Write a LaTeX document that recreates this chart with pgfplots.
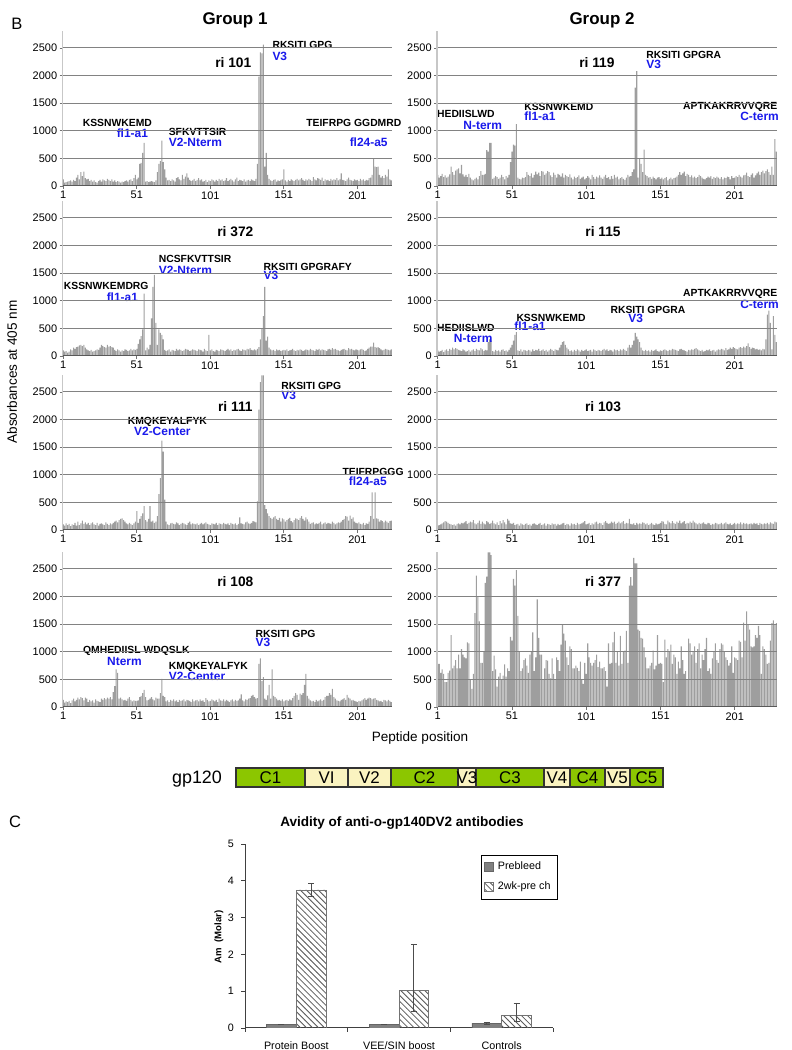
\documentclass[border=0pt]{standalone}
\usepackage{pgfplots}
\pgfplotsset{compat=1.18}
\usepackage{pgfplotstable}
\usepackage{fontspec}
\setmainfont{Liberation Sans}
\usetikzlibrary{patterns}
\definecolor{gpgreen}{RGB}{140,198,0}
\definecolor{gpyellow}{RGB}{250,243,192}
\definecolor{lblblue}{RGB}{25,25,235}
\definecolor{barfill}{RGB}{158,158,158}
\definecolor{gridc}{RGB}{130,130,130}
\newcommand\fs[1]{\fontsize{#1}{#1}\selectfont}

% ---------- data: absorbance per peptide position ----------
\pgfplotstableread[row sep=\\,header=false]{
120\\60\\70\\80\\90\\100\\80\\110\\90\\150\\
200\\120\\250\\180\\260\\140\\120\\130\\90\\110\\
80\\100\\70\\60\\90\\110\\80\\120\\100\\90\\
130\\110\\90\\120\\80\\100\\70\\90\\80\\60\\
80\\70\\90\\100\\80\\110\\120\\90\\140\\200\\
120\\150\\400\\420\\600\\780\\80\\90\\70\\80\\
90\\80\\70\\100\\250\\400\\450\\820\\430\\300\\
150\\100\\110\\90\\120\\100\\80\\140\\160\\120\\
100\\200\\130\\170\\230\\150\\110\\90\\100\\130\\
90\\110\\140\\100\\120\\80\\90\\110\\70\\100\\
90\\120\\100\\80\\110\\90\\130\\100\\120\\90\\
100\\140\\90\\110\\130\\100\\80\\120\\150\\90\\
110\\100\\90\\120\\80\\100\\110\\90\\120\\100\\
90\\130\\400\\1980\\2420\\2400\\2560\\350\\600\\200\\
130\\100\\90\\110\\120\\80\\100\\90\\110\\120\\
300\\100\\80\\110\\90\\120\\100\\90\\110\\130\\
100\\120\\140\\110\\90\\120\\100\\130\\110\\90\\
160\\120\\100\\140\\130\\110\\150\\90\\120\\100\\
110\\90\\130\\100\\120\\110\\140\\100\\120\\230\\
110\\100\\90\\120\\150\\110\\100\\90\\120\\100\\
110\\90\\130\\100\\120\\90\\110\\100\\140\\150\\
200\\500\\350\\340\\350\\200\\150\\180\\140\\200\\
170\\300\\120\\100\\
}\riA
\pgfplotstableread[row sep=\\,header=false]{
100\\80\\90\\60\\80\\120\\100\\150\\130\\160\\
170\\190\\200\\180\\200\\150\\120\\100\\90\\110\\
80\\90\\100\\120\\110\\150\\200\\180\\160\\150\\
200\\170\\180\\160\\150\\110\\90\\120\\100\\80\\
100\\90\\120\\110\\90\\100\\130\\100\\120\\110\\
130\\220\\300\\360\\480\\1130\\100\\150\\120\\200\\
680\\1250\\1470\\600\\200\\480\\420\\380\\300\\110\\
90\\100\\120\\80\\110\\100\\90\\130\\100\\120\\
110\\90\\100\\130\\120\\110\\90\\100\\120\\110\\
100\\90\\120\\110\\100\\80\\130\\100\\90\\380\\
100\\120\\90\\80\\110\\100\\90\\120\\110\\100\\
90\\110\\130\\100\\120\\90\\110\\100\\120\\130\\
100\\90\\120\\110\\100\\130\\120\\140\\110\\100\\
120\\100\\130\\160\\300\\500\\720\\1250\\280\\350\\
150\\120\\100\\110\\90\\120\\100\\110\\90\\100\\
110\\100\\120\\90\\100\\110\\130\\100\\90\\110\\
100\\120\\110\\90\\100\\120\\110\\100\\130\\110\\
100\\90\\120\\110\\130\\100\\120\\110\\100\\90\\
120\\130\\110\\140\\120\\130\\110\\100\\90\\110\\
120\\130\\110\\100\\140\\120\\130\\110\\100\\120\\
110\\100\\120\\130\\110\\90\\100\\130\\150\\170\\
170\\240\\160\\150\\160\\140\\120\\100\\110\\130\\
120\\110\\100\\120\\
}\riB
\pgfplotstableread[row sep=\\,header=false]{
100\\80\\120\\90\\110\\70\\100\\90\\130\\80\\
150\\90\\120\\170\\110\\140\\100\\130\\90\\120\\
140\\100\\90\\130\\80\\110\\120\\100\\90\\140\\
110\\90\\120\\100\\130\\150\\170\\140\\180\\200\\
210\\180\\150\\120\\100\\130\\110\\90\\120\\150\\
340\\130\\200\\250\\300\\430\\180\\150\\200\\430\\
150\\170\\130\\150\\250\\650\\940\\1620\\1420\\550\\
150\\100\\90\\120\\130\\110\\100\\140\\120\\90\\
110\\130\\120\\100\\90\\130\\150\\100\\120\\110\\
100\\120\\90\\110\\130\\100\\120\\140\\110\\100\\
90\\120\\110\\100\\130\\90\\120\\110\\100\\130\\
110\\100\\120\\90\\130\\110\\100\\120\\90\\110\\
230\\120\\110\\100\\140\\150\\120\\110\\130\\160\\
150\\140\\520\\2180\\2680\\2800\\2800\\450\\380\\300\\
250\\220\\200\\230\\250\\200\\180\\220\\150\\210\\
190\\150\\180\\200\\220\\160\\140\\180\\210\\200\\
180\\220\\250\\200\\170\\230\\190\\150\\110\\130\\
140\\100\\120\\110\\130\\150\\100\\120\\140\\110\\
130\\120\\110\\150\\130\\100\\120\\140\\130\\150\\
180\\200\\250\\240\\170\\260\\200\\230\\150\\130\\
120\\140\\110\\100\\130\\90\\120\\110\\150\\250\\
680\\200\\680\\210\\200\\150\\180\\160\\140\\170\\
150\\130\\160\\170\\
}\riC
\pgfplotstableread[row sep=\\,header=false]{
130\\80\\100\\90\\110\\70\\120\\150\\100\\130\\
170\\140\\180\\160\\120\\170\\150\\90\\130\\100\\
120\\80\\140\\110\\100\\90\\150\\130\\160\\140\\
170\\150\\180\\140\\270\\380\\680\\620\\150\\170\\
140\\120\\130\\110\\150\\180\\130\\100\\120\\110\\
110\\120\\180\\200\\250\\310\\180\\120\\130\\150\\
180\\140\\120\\170\\150\\150\\250\\510\\200\\180\\
100\\120\\90\\130\\110\\140\\100\\120\\90\\130\\
110\\120\\140\\100\\130\\120\\110\\90\\140\\100\\
120\\130\\100\\140\\110\\120\\90\\160\\130\\100\\
110\\140\\120\\100\\130\\90\\150\\120\\110\\140\\
100\\130\\110\\90\\120\\140\\100\\130\\110\\120\\
150\\230\\120\\100\\140\\130\\150\\160\\200\\220\\
180\\150\\160\\780\\880\\470\\540\\150\\130\\210\\
400\\150\\680\\200\\180\\150\\120\\130\\110\\140\\
100\\120\\130\\110\\140\\120\\160\\200\\250\\220\\
130\\240\\220\\250\\400\\600\\200\\150\\120\\100\\
110\\90\\130\\100\\120\\140\\110\\130\\180\\200\\
200\\250\\220\\330\\180\\150\\120\\110\\100\\130\\
140\\160\\130\\220\\170\\150\\120\\130\\110\\100\\
90\\110\\100\\120\\140\\160\\130\\150\\170\\160\\
140\\150\\160\\130\\120\\100\\110\\90\\130\\120\\
100\\130\\110\\90\\
}\riD
\pgfplotstableread[row sep=\\,header=false]{
200\\150\\180\\220\\160\\190\\150\\170\\210\\350\\
250\\200\\280\\300\\320\\230\\380\\210\\170\\200\\
160\\220\\150\\120\\100\\130\\150\\120\\180\\270\\
200\\200\\220\\650\\620\\780\\780\\130\\150\\180\\
160\\130\\150\\200\\160\\120\\180\\150\\200\\430\\
620\\750\\730\\1120\\150\\130\\120\\150\\140\\160\\
250\\200\\180\\230\\150\\200\\260\\210\\240\\180\\
270\\260\\200\\230\\270\\250\\190\\160\\240\\200\\
150\\220\\200\\170\\230\\150\\200\\180\\160\\210\\
150\\120\\170\\140\\160\\190\\130\\150\\170\\120\\
140\\180\\150\\120\\200\\160\\130\\170\\150\\190\\
150\\130\\170\\200\\140\\160\\120\\180\\130\\200\\
150\\170\\120\\140\\160\\130\\110\\150\\200\\170\\
180\\250\\300\\1780\\2080\\150\\500\\400\\250\\660\\
200\\180\\150\\160\\130\\170\\140\\120\\150\\160\\
130\\150\\120\\140\\160\\100\\130\\150\\120\\140\\
150\\170\\200\\250\\200\\230\\260\\180\\220\\200\\
160\\190\\150\\170\\140\\160\\200\\180\\150\\130\\
120\\140\\170\\150\\180\\130\\160\\140\\170\\150\\
130\\160\\120\\150\\140\\170\\160\\120\\180\\140\\
150\\180\\160\\200\\170\\150\\190\\200\\240\\180\\
160\\200\\230\\150\\190\\230\\260\\200\\250\\280\\
230\\270\\300\\250\\200\\350\\200\\850\\620\\
}\riE
\pgfplotstableread[row sep=\\,header=false]{
100\\80\\90\\110\\70\\100\\120\\90\\130\\110\\
150\\120\\140\\130\\110\\100\\90\\120\\100\\80\\
90\\110\\80\\100\\120\\90\\130\\110\\100\\140\\
120\\90\\110\\100\\250\\300\\280\\90\\80\\110\\
90\\100\\80\\110\\120\\90\\100\\80\\110\\150\\
200\\280\\380\\430\\100\\90\\120\\80\\110\\100\\
90\\110\\100\\80\\120\\90\\110\\100\\130\\90\\
100\\120\\90\\110\\80\\100\\130\\110\\90\\120\\
110\\100\\150\\200\\250\\270\\200\\150\\120\\90\\
100\\80\\110\\90\\120\\100\\80\\110\\90\\100\\
120\\90\\100\\110\\80\\120\\100\\90\\110\\100\\
90\\110\\130\\100\\120\\90\\110\\100\\80\\120\\
100\\110\\90\\120\\100\\130\\110\\90\\150\\200\\
150\\200\\280\\420\\350\\300\\250\\150\\100\\90\\
110\\90\\100\\80\\110\\90\\100\\120\\90\\80\\
100\\90\\110\\120\\100\\90\\110\\100\\130\\120\\
110\\100\\90\\120\\130\\110\\100\\90\\80\\110\\
100\\120\\110\\130\\140\\120\\100\\90\\110\\80\\
90\\110\\100\\120\\90\\100\\110\\80\\100\\120\\
110\\130\\120\\100\\140\\110\\120\\150\\130\\160\\
140\\130\\120\\150\\160\\140\\170\\150\\180\\230\\
160\\130\\150\\140\\120\\130\\110\\120\\100\\130\\
120\\300\\750\\820\\600\\120\\720\\380\\250\\
}\riF
\pgfplotstableread[row sep=\\,header=false]{
80\\90\\100\\120\\140\\160\\150\\130\\110\\100\\
90\\100\\80\\110\\120\\100\\130\\120\\140\\160\\
110\\130\\150\\140\\180\\120\\100\\130\\170\\110\\
150\\120\\100\\160\\140\\110\\130\\170\\120\\100\\
140\\90\\160\\120\\180\\140\\100\\200\\170\\120\\
110\\130\\90\\100\\110\\80\\120\\100\\90\\110\\
120\\90\\100\\80\\110\\120\\100\\90\\110\\130\\
90\\100\\120\\80\\110\\100\\90\\120\\100\\110\\
80\\110\\90\\100\\120\\130\\90\\110\\100\\80\\
120\\100\\110\\90\\130\\100\\110\\120\\140\\160\\
100\\110\\130\\90\\120\\100\\140\\150\\110\\130\\
120\\90\\140\\160\\130\\110\\120\\150\\130\\150\\
110\\130\\150\\120\\140\\160\\110\\130\\120\\200\\
110\\100\\120\\90\\130\\100\\120\\110\\140\\130\\
100\\120\\90\\110\\130\\100\\90\\120\\100\\110\\
130\\160\\150\\110\\100\\170\\140\\120\\160\\130\\
110\\150\\130\\170\\120\\140\\160\\110\\130\\120\\
150\\130\\170\\140\\120\\100\\130\\110\\120\\140\\
110\\100\\130\\120\\90\\110\\100\\130\\120\\100\\
110\\130\\100\\120\\140\\110\\100\\120\\90\\110\\
130\\100\\120\\110\\140\\100\\130\\110\\120\\100\\
110\\120\\100\\130\\110\\120\\90\\130\\110\\100\\
120\\110\\130\\100\\140\\120\\110\\150\\140\\
}\riG
\pgfplotstableread[row sep=\\,header=false]{
780\\780\\620\\680\\600\\450\\450\\620\\660\\1300\\
700\\750\\850\\700\\950\\700\\1050\\950\\900\\880\\
1170\\1150\\500\\330\\600\\1700\\2380\\2000\\1550\\800\\
800\\1000\\2250\\2360\\2800\\2800\\2750\\650\\930\\680\\
370\\550\\620\\500\\570\\770\\550\\700\\650\\1270\\
1200\\2320\\2200\\2480\\1650\\1000\\650\\700\\850\\880\\
750\\620\\950\\1000\\1350\\650\\900\\1950\\1250\\950\\
950\\500\\700\\850\\840\\600\\520\\880\\600\\500\\
900\\850\\650\\1130\\1500\\1330\\1200\\900\\760\\1100\\
1050\\700\\700\\750\\710\\650\\820\\500\\420\\800\\
600\\1150\\900\\800\\750\\800\\850\\950\\720\\820\\
700\\700\\720\\650\\370\\1150\\780\\800\\1170\\1360\\
800\\1000\\750\\1290\\780\\1000\\1020\\1380\\800\\2200\\
2350\\2200\\2700\\2600\\2600\\1400\\1380\\1250\\1240\\1080\\
900\\700\\700\\750\\800\\1020\\680\\750\\1300\\780\\
800\\780\\450\\1220\\900\\1050\\1000\\1130\\780\\950\\
900\\600\\820\\700\\1100\\850\\600\\650\\500\\1240\\
1150\\950\\1000\\1100\\800\\1050\\1150\\700\\950\\850\\
1050\\1250\\650\\700\\600\\880\\1000\\1150\\850\\800\\
1050\\1150\\1130\\1000\\900\\850\\750\\800\\1100\\620\\
900\\880\\850\\1200\\1180\\900\\1530\\1200\\1730\\1500\\
1400\\1100\\1080\\1100\\1300\\1250\\1470\\1300\\600\\1100\\
1050\\950\\780\\800\\1200\\1520\\1570\\1500\\1520\\
}\riH

\pgfplotsset{
  every non boxed x axis/.append style={x axis line style=-},
  every non boxed y axis/.append style={y axis line style=-},
  pbase/.style={
    scale only axis, height=77.3bp, ymin=0, ymax=2800, xmin=0.5,
    clip=false, axis on top,
    axis x line*=bottom, axis y line*=left,
    x axis line style={black!65, line width=0.5bp},
    y axis line style={black!22, line width=0.6bp},
    ytick={0,500,1000,1500,2000,2500}, xtick={1,51,101,151,201},
    ymajorgrids, grid style={gridc, line width=0.5bp},
    tick align=outside, major tick length=1.5bp,
    tick style={black!55, line width=0.4bp},
    ticklabel style={font=\fs{5.5}, inner sep=1bp},
    /pgf/number format/assume math mode=true,
    /pgf/number format/1000 sep={},
    scaled y ticks=false,
  },
  pleft/.style={pbase, width=164.75bp, xmax=224.5},
  pright/.style={pbase, width=170bp, xmax=229.5},
  pbars/.style={ybar, bar width=0.72, fill=barfill, draw=none},
}
\tikzset{
  seq/.style={font=\bfseries\fs{5.2}, inner sep=0pt},
  reg/.style={font=\bfseries\fs{6}, text=lblblue, inner sep=0pt},
  ri/.style={font=\bfseries\fs{6.9}, inner sep=0pt},
}

\begin{document}
\begin{tikzpicture}[x=0.5bp,y=0.5bp]
\path[use as bounding box] (0,0) rectangle (792,1050);

\node[font=\fs{8.3}] at (17,1050-24) {B};
\node[font=\bfseries\fs{8.5}] at (235,1050-20) {Group 1};
\node[font=\bfseries\fs{8.5}] at (602,1050-20) {Group 2};
\node[rotate=90,font=\fs{6.8}] at (12,1050-372) {Absorbances at 405 nm};
\node[font=\fs{6.8}] at (420,1050-738) {Peptide position};

% ---- ri 101
\begin{axis}[pleft, at={(31.25bp,432bp)}, anchor=south west]
\addplot[pbars] table[x expr=\coordindex+1, y index=0] {\riA};
\node[ri] at (axis cs:116.6,2228) {ri 101};
\node[seq,anchor=west] at (axis cs:143,2554) {RKSITI GPG};
\node[reg,anchor=west] at (axis cs:143,2355) {V3};
\node[seq] at (axis cs:37.8,1141) {KSSNWKEMD};
\node[reg] at (axis cs:48,960) {fl1-a1};
\node[seq,anchor=west] at (axis cs:72.5,978) {SFKVTTSIR};
\node[reg,anchor=west] at (axis cs:72.5,797) {V2-Nterm};
\node[seq,anchor=west] at (axis cs:166,1141) {TEIFRPG GGDMRD};
\node[reg,anchor=east] at (axis cs:221.8,797) {fl24-a5};
\end{axis}

% ---- ri 372
\begin{axis}[pleft, at={(31.25bp,347bp)}, anchor=south west]
\addplot[pbars] table[x expr=\coordindex+1, y index=0] {\riB};
\node[ri] at (axis cs:118,2252) {ri 372};
\node[seq,anchor=west] at (axis cs:65.7,1757) {NCSFKVTTSIR};
\node[reg,anchor=west] at (axis cs:65.7,1558) {V2-Nterm};
\node[seq,anchor=west] at (axis cs:1.2,1274) {KSSNWKEMDRG};
\node[reg] at (axis cs:41.2,1069) {fl1-a1};
\node[seq,anchor=west] at (axis cs:137,1612) {RKSITI GPGRAFY};
\node[reg,anchor=west] at (axis cs:137,1455) {V3};
\end{axis}

% ---- ri 111
\begin{axis}[pleft, at={(31.25bp,260bp)}, anchor=south west]
\addplot[pbars] table[x expr=\coordindex+1, y index=0] {\riC};
\node[ri] at (axis cs:118,2228) {ri 111};
\node[seq,anchor=west] at (axis cs:149,2609) {RKSITI GPG};
\node[reg,anchor=west] at (axis cs:149,2446) {V3};
\node[seq] at (axis cs:71.8,1962) {KMQKEYALFYK};
\node[reg] at (axis cs:68.4,1781) {V2-Center};
\node[seq,anchor=west] at (axis cs:190.6,1056) {TEIFRPGGG};
\node[reg] at (axis cs:208,875) {fl24-a5};
\end{axis}

% ---- ri 108
\begin{axis}[pleft, at={(31.25bp,171.5bp)}, anchor=south west]
\addplot[pbars] table[x expr=\coordindex+1, y index=0] {\riD};
\node[ri] at (axis cs:118,2264) {ri 108};
\node[seq,anchor=west] at (axis cs:131.5,1322) {RKSITI GPG};
\node[reg,anchor=west] at (axis cs:131.5,1177) {V3};
\node[seq] at (axis cs:50.7,1014) {QMHEDIISL WDQSLK};
\node[reg] at (axis cs:42.6,833) {Nterm};
\node[seq,anchor=west] at (axis cs:72.5,725) {KMQKEYALFYK};
\node[reg,anchor=west] at (axis cs:72.5,562) {V2-Center};
\end{axis}

% ---- ri 119
\begin{axis}[pright, at={(218.5bp,432bp)}, anchor=south west]
\addplot[pbars] table[x expr=\coordindex+1, y index=0] {\riE};
\node[ri] at (axis cs:108.2,2228) {ri 119};
\node[seq,anchor=west] at (axis cs:141.2,2373) {RKSITI GPGRA};
\node[reg,anchor=west] at (axis cs:141.2,2210) {V3};
\node[seq,anchor=west] at (axis cs:0.3,1304) {HEDIISLWD};
\node[reg] at (axis cs:31.3,1105) {N-term};
\node[seq,anchor=west] at (axis cs:59,1437) {KSSNWKEMD};
\node[reg,anchor=west] at (axis cs:59,1268) {fl1-a1};
\node[seq,anchor=east] at (axis cs:230,1437) {APTKAKRRVVQRE};
\node[reg,anchor=east] at (axis cs:231,1268) {C-term};
\end{axis}

% ---- ri 115
\begin{axis}[pright, at={(218.5bp,347bp)}, anchor=south west]
\addplot[pbars] table[x expr=\coordindex+1, y index=0] {\riF};
\node[ri] at (axis cs:112.3,2252) {ri 115};
\node[seq,anchor=east] at (axis cs:230,1123) {APTKAKRRVVQRE};
\node[reg,anchor=east] at (axis cs:231,942) {C-term};
\node[seq] at (axis cs:142.6,833) {RKSITI GPGRA};
\node[reg] at (axis cs:134.3,688) {V3};
\node[seq] at (axis cs:77.3,694) {KSSNWKEMD};
\node[reg] at (axis cs:63.1,531) {fl1-a1};
\node[seq,anchor=west] at (axis cs:0.3,513) {HEDIISLWD};
\node[reg] at (axis cs:24.9,320) {N-term};
\end{axis}

% ---- ri 103
\begin{axis}[pright, at={(218.5bp,260bp)}, anchor=south west]
\addplot[pbars] table[x expr=\coordindex+1, y index=0] {\riG};
\node[ri] at (axis cs:112.3,2228) {ri 103};
\end{axis}

% ---- ri 377
\begin{axis}[pright, at={(218.5bp,171.5bp)}, anchor=south west]
\addplot[pbars] table[x expr=\coordindex+1, y index=0] {\riH};
\node[ri] at (axis cs:112.3,2264) {ri 377};
\end{axis}

% ---- gp120 map
\node[font=\fs{9}] at (197,1050-779) {gp120};
\begin{axis}[at={(118bp,131.5bp)}, anchor=south west, scale only axis,
  width=213.5bp, height=9.5bp, xmin=0, xmax=427, ymin=-0.5, ymax=0.5,
  hide axis, xbar stacked, bar width=1, clip=false]
\addplot[fill=gpgreen,draw=black!80,line width=0.6bp] coordinates {(69,0)};
\addplot[fill=gpyellow,draw=black!80,line width=0.6bp] coordinates {(43,0)};
\addplot[fill=gpyellow,draw=black!80,line width=0.6bp] coordinates {(43,0)};
\addplot[fill=gpgreen,draw=black!80,line width=0.6bp] coordinates {(67,0)};
\addplot[fill=gpyellow,draw=black!80,line width=0.6bp] coordinates {(18,0)};
\addplot[fill=gpgreen,draw=black!80,line width=0.6bp] coordinates {(68,0)};
\addplot[fill=gpyellow,draw=black!80,line width=0.6bp] coordinates {(26,0)};
\addplot[fill=gpgreen,draw=black!80,line width=0.6bp] coordinates {(35,0)};
\addplot[fill=gpyellow,draw=black!80,line width=0.6bp] coordinates {(25,0)};
\addplot[fill=gpgreen,draw=black!80,line width=0.6bp] coordinates {(33,0)};
\end{axis}
\begin{scope}[every node/.style={font=\fs{8.5}, inner sep=0pt}]
\node at (270.5,272.5) {C1};
\node at (326.5,272.5) {VI};
\node at (369.5,272.5) {V2};
\node at (424.5,272.5) {C2};
\node at (467,272.5) {V3};
\node at (510,272.5) {C3};
\node at (557,272.5) {V4};
\node at (587.5,272.5) {C4};
\node at (617.5,272.5) {V5};
\node at (646.5,272.5) {C5};
\end{scope}

% ---- panel C
\node[font=\fs{8.3}] at (15,1050-822) {C};
\node[font=\bfseries\fs{6.8}] at (402,1050-823) {Avidity of anti-o-gp140DV2 antibodies};
\node[rotate=90,font=\bfseries\fs{4.8}] at (219,1050-937) {Am\ \ (Molar)};
\begin{axis}[at={(122.5bp,11bp)}, anchor=south west, scale only axis,
  width=154bp, height=92bp, xmin=-0.5, xmax=2.5, ymin=0, ymax=5,
  axis x line*=bottom, axis y line*=left,
  axis line style={black!75, line width=0.5bp},
  ytick={0,1,2,3,4,5}, xtick={0,1,2},
  xticklabels={Protein Boost, VEE/SIN boost, Controls},
  minor xtick={-0.5,0.5,1.5,2.5},
  major x tick style={draw=none},
  minor x tick style={black!75, line width=0.4bp},
  y tick style={black!75, line width=0.4bp},
  tick align=outside, major tick length=2bp, minor tick length=2bp,
  ticklabel style={font=\fs{5.4}},
  xticklabel style={yshift=-1.5bp},
  /pgf/number format/assume math mode=true,
  ybar=0pt, bar width=0.29,
  legend style={at={(1.016,0.94)}, anchor=north east, draw=black, line width=0.4bp,
    font=\fs{5.4}, inner xsep=1.5bp, inner ysep=1.2bp, row sep=0.6bp},
  legend cell align=left,
  legend image code/.code={\draw[#1] (0bp,-2bp) rectangle (4.5bp,2.5bp);},
]
\addplot[fill={rgb,255:red,128;green,128;blue,128}, draw=black!60, line width=0.4bp,
  error bars/.cd, y dir=both, y explicit,
  error bar style={black!70, line width=0.4bp},
  error mark options={rotate=90, black!70, line width=0.4bp, mark size=1.5bp}]
  coordinates {(0,0.10) +- (0,0.005) (1,0.10) +- (0,0.005) (2,0.13) +- (0,0.02)};
\addlegendentry{Prebleed}
\addplot[pattern=north west lines, pattern color=black!65, draw=black!55, line width=0.4bp,
  error bars/.cd, y dir=both, y explicit,
  error bar style={black!70, line width=0.4bp},
  error mark options={rotate=90, black!70, line width=0.4bp, mark size=1.5bp}]
  coordinates {(0,3.75) +- (0,0.17) (1,1.02) += (0,1.25) -= (0,0.57) (2,0.33) += (0,0.35) -= (0,0.16)};
\addlegendentry{2wk-pre ch}
\end{axis}
\end{tikzpicture}
\end{document}
